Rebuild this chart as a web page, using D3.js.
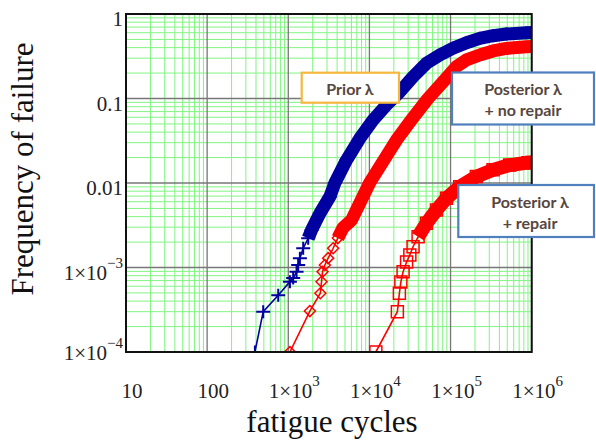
<!DOCTYPE html>
<html>
<head>
<meta charset="utf-8">
<script src="https://cdn.jsdelivr.net/npm/d3@7"></script>
<style>
  html, body { margin: 0; padding: 0; background: #fff; }
  svg { display: block; }
  .tick-label { font-family: "Liberation Serif", "Times New Roman", serif; font-size: 21px; fill: #222; }
  .axis-title { font-family: "Liberation Serif", "Times New Roman", serif; font-size: 31px; fill: #111; }
  .note { font-family: Lato, "Open Sans", sans-serif; font-weight: bold; font-size: 16px; fill: #574640; }
</style>
</head>
<body>
<svg id="chart" width="596" height="441"></svg>
<script>
// values (fatigue cycles vs frequency of failure)
const priorCycles = [388, 491, 752, 1047, 1149, 1265, 1324, 1390, 1527, 1760, 1938, 2451, 3254, 3750, 5220, 7620, 11100, 16200, 23700, 34500, 50400, 73600, 107000, 157000, 229000, 334000, 487000, 860000, 1000000];
const priorFreq = [1.0e-4, 3.0e-4, 4.7e-4, 6.8e-4, 7.5e-4, 8.9e-4, 1.07e-3, 1.29e-3, 1.69e-3, 2.22e-3, 2.78e-3, 4.38e-3, 6.89e-3, 0.0100, 0.0187, 0.0338, 0.0557, 0.0838, 0.120, 0.181, 0.261, 0.327, 0.393, 0.457, 0.515, 0.553, 0.579, 0.601, 0.605];

const noRepairCycles = [1047, 1845, 2484, 2570, 2644, 2823, 3100, 3572, 4082, 4700, 6030, 6930, 10100, 17000, 21600, 32900, 52800, 84900, 118000, 157000, 229000, 334000, 487000, 860000, 1000000];
const noRepairFreq = [1.0e-4, 3.05e-4, 4.96e-4, 6.79e-4, 8.9e-4, 1.07e-3, 1.29e-3, 1.69e-3, 2.23e-3, 2.93e-3, 3.65e-3, 4.8e-3, 0.0101, 0.0224, 0.0323, 0.0557, 0.100, 0.166, 0.238, 0.286, 0.327, 0.365, 0.391, 0.410, 0.412];

const repairCycles = [12000, 22100, 23400, 24400, 26000, 28700, 31500, 34500, 39800, 50400, 67000, 89100, 129800, 208000, 334000, 535000, 900000, 1000000];
const repairFreq = [1.0e-4, 3.0e-4, 4.96e-4, 6.73e-4, 8.9e-4, 1.16e-3, 1.41e-3, 1.76e-3, 2.31e-3, 3.33e-3, 4.79e-3, 6.59e-3, 9.04e-3, 0.0119, 0.0143, 0.0163, 0.0174, 0.0175];

const xTickValues = [10, 100, 1e3, 1e4, 1e5, 1e6];
const xTickLabels = ['10', '100', '1×10^3', '1×10^4', '1×10^5', '1×10^6'];
const yTickValues = [1, 0.1, 0.01, 1e-3, 1e-4];
const yTickLabels = ['1', '0.1', '0.01', '1×10^−3', '1×10^−4'];

const notes = [
    { lines: ['Prior λ'], box: [301.7, 72.7, 97.3, 30], color: '#f6b73c', cx: 350, base: 94.5 },
    { lines: ['Posterior λ', '+ no repair'], box: [452, 72.5, 142, 52], color: '#4f80bd', cx: 523, base: 95 },
    { lines: ['Posterior λ', '+ repair'], box: [458.3, 185, 135.7, 52], color: '#4f80bd', cx: 530, base: 208 }
];

const BAND_FROM = 2.2e-3; // above this the markers pile up into a solid band

const svg = d3.select('#chart');
const plot = { left: 126, right: 531.7, top: 14, bottom: 352 };

const x = d3.scaleLog().domain([10, 1e6]).range([plot.left, plot.right]);
const y = d3.scaleLog().domain([1e-4, 1]).range([plot.bottom, plot.top]);

svg.append('defs').append('clipPath').attr('id', 'plot-clip')
    .append('rect')
    .attr('x', plot.left).attr('y', plot.top)
    .attr('width', plot.right - plot.left).attr('height', plot.bottom - plot.top);

// grid
const isDecade = v => Math.abs(Math.log10(v) - Math.round(Math.log10(v))) < 1e-9;
const grid = svg.append('g');
grid.selectAll('line.vminor')
    .data(x.ticks().filter(v => !isDecade(v)))
    .join('line')
    .attr('x1', d => x(d)).attr('x2', d => x(d))
    .attr('y1', plot.top).attr('y2', plot.bottom)
    .attr('stroke', '#80f580').attr('stroke-width', 1);
grid.selectAll('line.hminor')
    .data(y.ticks().filter(v => !isDecade(v)))
    .join('line')
    .attr('y1', d => y(d)).attr('y2', d => y(d))
    .attr('x1', plot.left).attr('x2', plot.right)
    .attr('stroke', '#80f580').attr('stroke-width', 1);
grid.append('g').selectAll('line')
    .data(xTickValues)
    .join('line')
    .attr('x1', d => x(d)).attr('x2', d => x(d))
    .attr('y1', plot.top).attr('y2', plot.bottom)
    .attr('stroke', '#777').attr('stroke-width', 1.3);
grid.append('g').selectAll('line')
    .data(yTickValues)
    .join('line')
    .attr('y1', d => y(d)).attr('y2', d => y(d))
    .attr('x1', plot.left).attr('x2', plot.right)
    .attr('stroke', '#777').attr('stroke-width', 1.3);

// series
const series = [
    { cycles: repairCycles, freq: repairFreq, color: '#ff0000', band: 14, marker: 'square' },
    { cycles: noRepairCycles, freq: noRepairFreq, color: '#ff0000', band: 13, marker: 'diamond' },
    { cycles: priorCycles, freq: priorFreq, color: '#0000a0', band: 13, marker: 'plus' }
];

const markerPath = {
    plus: 'M-7,0H7M0,-6.5V6.5',
    diamond: 'M0,-5.5L5.5,0L0,5.5L-5.5,0Z',
    square: 'M-6,-6H6V6H-6Z'
};

const line = d3.line().x(d => x(d[0])).y(d => y(d[1]));
const dataLayer = svg.append('g').attr('clip-path', 'url(#plot-clip)');

series.forEach(s => {
    const pts = s.cycles.map((c, i) => [c, s.freq[i]]);
    const g = dataLayer.append('g');

    g.append('path')
        .attr('d', line(pts))
        .attr('fill', 'none')
        .attr('stroke', s.color)
        .attr('stroke-width', 1.6);

    g.append('path')
        .attr('d', line(pts.filter(p => p[1] >= BAND_FROM)))
        .attr('fill', 'none')
        .attr('stroke', s.color)
        .attr('stroke-width', s.band)
        .attr('stroke-linejoin', 'round');

    g.selectAll('path.marker')
        .data(pts)
        .join('path')
        .attr('class', 'marker')
        .attr('transform', d => `translate(${x(d[0])},${y(d[1])})`)
        .attr('d', markerPath[s.marker])
        .attr('fill', 'none')
        .attr('stroke', s.color)
        .attr('stroke-width', s.marker === 'plus' ? 2 : 1.5);
});

// frame
svg.append('rect')
    .attr('x', plot.left).attr('y', plot.top)
    .attr('width', plot.right - plot.left).attr('height', plot.bottom - plot.top)
    .attr('fill', 'none').attr('stroke', '#111').attr('stroke-width', 2);

// tick labels, "^" marks the exponent
function writeLabel(sel, label) {
    const parts = label.split('^');
    sel.append('tspan').text(parts[0]);
    if (parts[1]) {
        sel.append('tspan').attr('font-size', 15).attr('dy', -12).text(parts[1]);
    }
}

svg.append('g').selectAll('text')
    .data(xTickValues)
    .join('text')
    .attr('class', 'tick-label')
    .attr('x', d => x(d) + 6)
    .attr('y', 398)
    .attr('text-anchor', 'middle')
    .each(function (d, i) { writeLabel(d3.select(this), xTickLabels[i]); });

svg.append('g').selectAll('text')
    .data(yTickValues)
    .join('text')
    .attr('class', 'tick-label')
    .attr('x', 123)
    .attr('y', d => Math.min(y(d) + 12, plot.bottom + 8))
    .attr('text-anchor', 'end')
    .each(function (d, i) { writeLabel(d3.select(this), yTickLabels[i]); });

// axis titles
svg.append('text')
    .attr('class', 'axis-title')
    .attr('transform', 'translate(33,169) rotate(-90)')
    .attr('text-anchor', 'middle')
    .text('Frequency of failure');

svg.append('text')
    .attr('class', 'axis-title')
    .attr('x', 332).attr('y', 432)
    .attr('text-anchor', 'middle')
    .text('fatigue cycles');

// annotation boxes
notes.forEach(n => {
    const g = svg.append('g');
    g.append('rect')
        .attr('x', n.box[0]).attr('y', n.box[1])
        .attr('width', n.box[2]).attr('height', n.box[3])
        .attr('fill', '#fff')
        .attr('stroke', n.color)
        .attr('stroke-width', 2.2);
    g.selectAll('text')
        .data(n.lines)
        .join('text')
        .attr('class', 'note')
        .attr('x', n.cx)
        .attr('y', (d, i) => n.base + i * 21)
        .attr('text-anchor', 'middle')
        .text(d => d);
});
</script>
</body>
</html>
